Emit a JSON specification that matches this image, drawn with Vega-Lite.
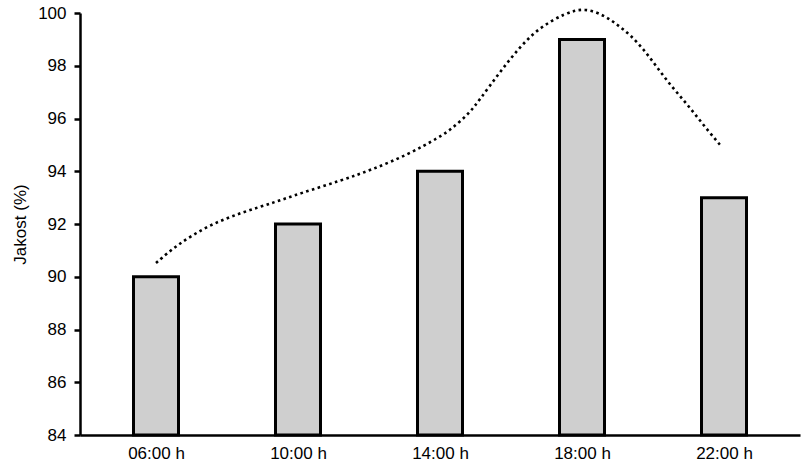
{
  "$schema": "https://vega.github.io/schema/vega-lite/v6.json",
  "width": 720,
  "height": 422,
  "autosize": "none",
  "padding": {"left": 80, "top": 13, "right": 6, "bottom": 36},
  "background": "white",
  "config": {
    "view": {"stroke": null},
    "font": "Liberation Sans",
    "axis": {"grid": false, "labelFont": "Liberation Sans", "titleFont": "Liberation Sans", "labelColor": "black", "titleColor": "black", "domainColor": "black", "tickColor": "black"}
  },
  "datasets": {
    "bars": [
      {"hour": 6, "jakost": 90},
      {"hour": 10, "jakost": 92},
      {"hour": 14, "jakost": 94},
      {"hour": 18, "jakost": 99},
      {"hour": 22, "jakost": 93}
    ],
    "trend": [
      {"hour": 6.0, "jakost": 90.52},
      {"hour": 6.58, "jakost": 91.2},
      {"hour": 7.47, "jakost": 91.95},
      {"hour": 8.44, "jakost": 92.45},
      {"hour": 9.36, "jakost": 92.83},
      {"hour": 10.03, "jakost": 93.15},
      {"hour": 11.22, "jakost": 93.65},
      {"hour": 12.06, "jakost": 94.05},
      {"hour": 13.08, "jakost": 94.62},
      {"hour": 14.0, "jakost": 95.3},
      {"hour": 14.36, "jakost": 95.64},
      {"hour": 14.83, "jakost": 96.21},
      {"hour": 15.11, "jakost": 96.7},
      {"hour": 15.67, "jakost": 97.73},
      {"hour": 16.22, "jakost": 98.67},
      {"hour": 16.78, "jakost": 99.43},
      {"hour": 17.53, "jakost": 100.0},
      {"hour": 18.08, "jakost": 100.2},
      {"hour": 18.64, "jakost": 99.9},
      {"hour": 19.0, "jakost": 99.55},
      {"hour": 19.36, "jakost": 99.17},
      {"hour": 19.75, "jakost": 98.6},
      {"hour": 20.11, "jakost": 97.95},
      {"hour": 20.47, "jakost": 97.3},
      {"hour": 20.86, "jakost": 96.7},
      {"hour": 21.22, "jakost": 96.1},
      {"hour": 21.58, "jakost": 95.49},
      {"hour": 21.94, "jakost": 94.92}
    ]
  },
  "layer": [
    {
      "data": {"name": "bars"},
      "mark": {"type": "bar", "size": 45, "fill": "#cfcfcf", "stroke": "black", "strokeWidth": 3},
      "encoding": {
        "x": {
          "field": "hour", "type": "quantitative",
          "scale": {"domain": [4, 24], "nice": false, "zero": false},
          "axis": {
            "values": [6, 10, 14, 18, 22],
            "labelExpr": "(datum.value < 10 ? '0' : '') + datum.value + ':00 h'",
            "title": null, "ticks": false, "domainWidth": 2.5,
            "labelFontSize": 17, "labelPadding": 10
          }
        },
        "y": {
          "field": "jakost", "type": "quantitative",
          "scale": {"domain": [84, 100], "nice": false, "zero": false},
          "axis": {
            "values": [84, 86, 88, 90, 92, 94, 96, 98, 100],
            "title": "Jakost (%)", "titleFontSize": 17, "titleFontWeight": "normal",
            "titlePadding": 8, "labelFontSize": 17, "labelPadding": 8,
            "tickSize": 6, "tickWidth": 2.5, "domainWidth": 2.5
          }
        },
        "y2": {"datum": 84}
      }
    },
    {
      "data": {"name": "trend"},
      "mark": {"type": "line", "interpolate": "basis", "color": "black", "strokeWidth": 2.6, "strokeDash": [2.6, 3.4], "clip": false},
      "encoding": {
        "x": {"field": "hour", "type": "quantitative"},
        "y": {"field": "jakost", "type": "quantitative"}
      }
    }
  ]
}
